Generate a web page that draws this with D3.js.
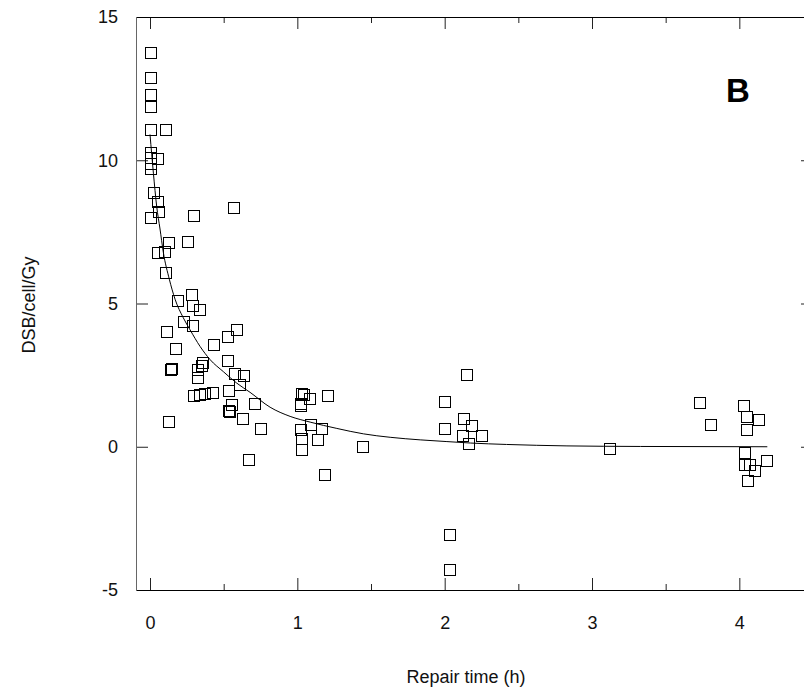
<!DOCTYPE html>
<html>
<head>
<meta charset="utf-8">
<script src="https://cdn.jsdelivr.net/npm/d3@7"></script>
<style>
  body { margin: 0; background: #fff; }
  text { font-family: "Liberation Sans", Arial, sans-serif; }
</style>
</head>
<body>
<div id="chart"></div>
<script>
// measured points (repair time in h, DSB/cell/Gy)
var repairTime = [0, 0, 0, 0, 0, 0.104, 0, 0.003, 0.05, 0.003, 0.003, 0.023, 0.052, 0.057, 0, 0.294, 0.566,
  0.125, 0.253, 0.052, 0.097, 0.104, 0.188, 0.283, 0.288, 0.335, 0.226, 0.288, 0.113, 0.586, 0.523, 0.433,
  0.172, 0.523, 0.355, 0.349, 0.149, 0.14, 0.324, 0.324, 0.573, 0.634, 0.607, 0.532, 0.294, 0.338, 0.367,
  0.421, 0.555, 0.537, 0.53, 0.625, 0.709, 0.124, 0.75, 0.666,
  1.03, 1.04, 1.082, 1.202, 1.024, 1.024, 1.087, 1.024, 1.166, 1.03, 1.137, 1.03, 1.442, 1.182,
  2.151, 2.0, 2.13, 2.18, 2.0, 2.123, 2.253, 2.163, 2.033, 2.033,
  3.12, 3.732, 3.804, 4.03, 4.049, 4.132, 4.049, 4.035, 4.035, 4.07, 4.1, 4.185, 4.053];
var dsbPerGy = [13.77, 12.9, 12.3, 11.87, 11.08, 11.08, 10.27, 10.1, 10.07, 9.9, 9.7, 8.89, 8.56, 8.21, 8.01, 8.08, 8.36,
  7.13, 7.15, 6.78, 6.81, 6.08, 5.1, 5.31, 4.93, 4.8, 4.36, 4.22, 4.01, 4.09, 3.84, 3.58,
  3.42, 3.02, 2.94, 2.85, 2.72, 2.69, 2.71, 2.42, 2.55, 2.48, 2.17, 1.96, 1.79, 1.81, 1.85,
  1.9, 1.49, 1.22, 1.28, 0.99, 1.5, 0.88, 0.65, -0.45,
  1.87, 1.81, 1.67, 1.8, 1.43, 1.5, 0.77, 0.59, 0.65, 0.3, 0.27, -0.1, 0.01, -0.98,
  2.51, 1.58, 0.98, 0.73, 0.65, 0.38, 0.41, 0.13, -3.05, -4.27,
  -0.07, 1.55, 0.79, 1.43, 1.06, 0.94, 0.59, -0.2, -0.63, -0.63, -0.84, -0.48, -1.18];

// fitted curve
var fitTime  = [0, 0.023, 0.045, 0.068, 0.09, 0.131, 0.17, 0.226, 0.272, 0.34, 0.408, 0.498, 0.589, 0.679,
  0.815, 0.951, 1.087, 1.268, 1.449, 1.63, 1.834, 2.015, 2.174, 2.42, 2.83, 3.33, 4.19];
var fitValue = [10.9, 9.55, 8.4, 7.6, 6.8, 5.85, 5.15, 4.5, 4.08, 3.5, 3.04, 2.62, 2.22, 1.9,
  1.38, 1.06, 0.86, 0.64, 0.45, 0.33, 0.24, 0.18, 0.13, 0.08, 0.03, 0.01, 0];

var xMajor = [0, 1, 2, 3, 4];
var xMinor = [0.5, 1.5, 2.5, 3.5];
var yMajor = [-5, 0, 5, 10, 15];

var width = 804, height = 696;
var margin = {top: 17, left: 136, right: 813, bottom: 590};

var svg = d3.select("#chart").append("svg")
    .attr("width", width)
    .attr("height", height);

var x = d3.scaleLinear().domain([-0.0951, 4.5]).range([margin.left, margin.right]);
var y = d3.scaleLinear().domain([-5, 15]).range([margin.bottom, margin.top]);

var plain = function(d) { return String(d); };

// ticks, all pointing inward
svg.append("g")
    .attr("transform", "translate(0," + margin.bottom + ")")
    .call(d3.axisBottom(x).tickValues(xMajor).tickSize(-12).tickPadding(26).tickFormat(plain))
    .call(function(g) { g.select(".domain").remove(); });
svg.append("g")
    .attr("transform", "translate(0," + margin.bottom + ")")
    .call(d3.axisBottom(x).tickValues(xMinor).tickSize(-6).tickFormat(""))
    .call(function(g) { g.select(".domain").remove(); });
svg.append("g")
    .attr("transform", "translate(0," + margin.top + ")")
    .call(d3.axisTop(x).tickValues(xMajor).tickSize(-12).tickFormat(""))
    .call(function(g) { g.select(".domain").remove(); });
svg.append("g")
    .attr("transform", "translate(0," + margin.top + ")")
    .call(d3.axisTop(x).tickValues(xMinor).tickSize(-6).tickFormat(""))
    .call(function(g) { g.select(".domain").remove(); });
svg.append("g")
    .attr("transform", "translate(" + margin.left + ",0)")
    .call(d3.axisLeft(y).tickValues(yMajor).tickSize(-12).tickPadding(18).tickFormat(plain))
    .call(function(g) { g.select(".domain").remove(); });
svg.append("g")
    .attr("transform", "translate(" + margin.right + ",0)")
    .call(d3.axisRight(y).tickValues(yMajor).tickSize(-12).tickFormat(""))
    .call(function(g) { g.select(".domain").remove(); });

svg.selectAll(".tick text")
    .style("font-size", "18px")
    .style("fill", "#111");
svg.selectAll(".tick line").style("stroke", "#222");

// frame
svg.append("line").attr("x1", margin.left).attr("x2", margin.right)
    .attr("y1", margin.top + 0.5).attr("y2", margin.top + 0.5).style("stroke", "#000");
svg.append("line").attr("x1", margin.left).attr("x2", margin.right)
    .attr("y1", margin.bottom + 0.5).attr("y2", margin.bottom + 0.5).style("stroke", "#000");
svg.append("line").attr("x1", margin.left + 0.5).attr("x2", margin.left + 0.5)
    .attr("y1", margin.top).attr("y2", margin.bottom + 1).style("stroke", "#666");
svg.append("line").attr("x1", margin.right + 0.5).attr("x2", margin.right + 0.5)
    .attr("y1", margin.top).attr("y2", margin.bottom + 1).style("stroke", "#000");

// fit line
var line = d3.line()
    .x(function(d) { return x(d[0]); })
    .y(function(d) { return y(d[1]); })
    .curve(d3.curveMonotoneX);
svg.append("path")
    .datum(d3.zip(fitTime, fitValue))
    .attr("d", line)
    .style("fill", "none")
    .style("stroke", "#000")
    .style("stroke-width", 1);

// open squares
var sz = 11;
svg.append("g").selectAll("rect")
    .data(d3.zip(repairTime, dsbPerGy))
  .enter().append("rect")
    .attr("x", function(d) { return Math.round(x(d[0]) - sz / 2) + 0.5; })
    .attr("y", function(d) { return Math.round(y(d[1]) - sz / 2) + 0.5; })
    .attr("width", sz)
    .attr("height", sz)
    .style("fill", "none")
    .style("stroke", "#000")
    .style("stroke-width", 1);

// panel letter
svg.append("text")
    .attr("x", 738)
    .attr("y", 102)
    .attr("text-anchor", "middle")
    .style("font-size", "33px")
    .style("font-weight", "bold")
    .text("B");

// axis titles
svg.append("text")
    .attr("x", 466)
    .attr("y", 683)
    .attr("text-anchor", "middle")
    .style("font-size", "18px")
    .style("fill", "#111")
    .text("Repair time (h)");

svg.append("text")
    .attr("transform", "translate(35,305) rotate(-90)")
    .attr("text-anchor", "middle")
    .style("font-size", "18px")
    .style("fill", "#111")
    .text("DSB/cell/Gy");
</script>
</body>
</html>
